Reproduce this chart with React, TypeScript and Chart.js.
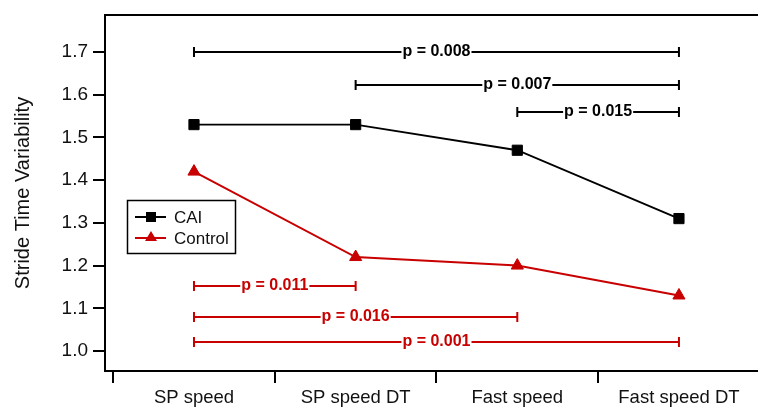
import React, { useEffect, useRef } from 'react';
import { Chart, registerables } from 'chart.js';

Chart.register(...registerables);

const categories = ['SP speed', 'SP speed DT', 'Fast speed', 'Fast speed DT'];
const caiValues = [1.53, 1.53, 1.47, 1.31];
const controlValues = [1.42, 1.22, 1.2, 1.13];
const yTickValues = [1.0, 1.1, 1.2, 1.3, 1.4, 1.5, 1.6, 1.7];

const blackBracketFrom = [0, 1, 2];
const blackBracketTo = [3, 3, 3];
const blackBracketLevel = [1.7, 1.623, 1.56];
const blackBracketLabels = ['p = 0.008', 'p = 0.007', 'p = 0.015'];

const redBracketFrom = [0, 0, 0];
const redBracketTo = [1, 2, 3];
const redBracketLevel = [1.152, 1.08, 1.021];
const redBracketLabels = ['p = 0.011', 'p = 0.016', 'p = 0.001'];

const BLACK = '#000000';
const RED = '#c80000';
const FONT = '"Liberation Sans", Arial, sans-serif';

function drawBrackets(chart: any, from: number[], to: number[], level: number[], labels: string[], color: string) {
  const ctx = chart.ctx;
  const xs = chart.scales.x;
  const ys = chart.scales.y;
  ctx.save();
  ctx.strokeStyle = color;
  ctx.fillStyle = color;
  ctx.lineWidth = 2;
  ctx.font = `bold 16px ${FONT}`;
  ctx.textAlign = 'center';
  ctx.textBaseline = 'middle';
  for (let i = 0; i < labels.length; i++) {
    const x1 = xs.getPixelForValue(from[i]);
    const x2 = xs.getPixelForValue(to[i]);
    const y = Math.round(ys.getPixelForValue(level[i]));
    const cx = (x1 + x2) / 2;
    const w = ctx.measureText(labels[i]).width;
    ctx.beginPath();
    ctx.moveTo(x1, y);
    ctx.lineTo(cx - w / 2 - 1, y);
    ctx.moveTo(cx + w / 2 + 1, y);
    ctx.lineTo(x2, y);
    ctx.moveTo(x1, y - 5);
    ctx.lineTo(x1, y + 5);
    ctx.moveTo(x2, y - 5);
    ctx.lineTo(x2, y + 5);
    ctx.stroke();
    ctx.fillText(labels[i], cx, y);
  }
  ctx.restore();
}

const overlayPlugin = {
  id: 'overlay',
  afterDraw(chart: any) {
    const ctx = chart.ctx;
    const area = chart.chartArea;
    ctx.save();
    ctx.strokeStyle = BLACK;
    ctx.lineWidth = 2;
    ctx.beginPath();
    ctx.moveTo(area.left - 1, area.top);
    ctx.lineTo(chart.width, area.top);
    ctx.stroke();
    ctx.restore();

    drawBrackets(chart, blackBracketFrom, blackBracketTo, blackBracketLevel, blackBracketLabels, BLACK);
    drawBrackets(chart, redBracketFrom, redBracketTo, redBracketLevel, redBracketLabels, RED);

    ctx.save();
    ctx.strokeStyle = BLACK;
    ctx.lineWidth = 1.5;
    ctx.strokeRect(127.5, 200.5, 108, 53);
    const entries = [
      { label: 'CAI', color: BLACK, shape: 'rect', y: 217 },
      { label: 'Control', color: RED, shape: 'tri', y: 238 },
    ];
    ctx.font = `17px ${FONT}`;
    ctx.textAlign = 'left';
    ctx.textBaseline = 'middle';
    for (const e of entries) {
      ctx.strokeStyle = e.color;
      ctx.fillStyle = e.color;
      ctx.lineWidth = 2;
      ctx.beginPath();
      ctx.moveTo(135, e.y);
      ctx.lineTo(166, e.y);
      ctx.stroke();
      if (e.shape === 'rect') {
        ctx.fillRect(146, e.y - 5, 10, 10);
      } else {
        ctx.beginPath();
        ctx.moveTo(151, e.y - 7);
        ctx.lineTo(157, e.y + 3);
        ctx.lineTo(145, e.y + 3);
        ctx.closePath();
        ctx.fill();
      }
      ctx.fillStyle = '#111';
      ctx.fillText(e.label, 174, e.y + 1);
    }
    ctx.restore();
  },
};

export default function App() {
  const canvasRef = useRef<HTMLCanvasElement | null>(null);

  useEffect(() => {
    if (!canvasRef.current) return;
    const chart = new Chart(canvasRef.current, {
      type: 'line',
      data: {
        datasets: [
          {
            label: 'CAI',
            data: caiValues.map((v, i) => ({ x: i, y: v })),
            borderColor: BLACK,
            backgroundColor: BLACK,
            borderWidth: 1.8,
            pointStyle: 'rect',
            pointRadius: 7.2,
            pointBorderWidth: 1,
            pointBackgroundColor: BLACK,
            pointBorderColor: BLACK,
            tension: 0,
          },
          {
            label: 'Control',
            data: controlValues.map((v, i) => ({ x: i, y: v })),
            borderColor: RED,
            backgroundColor: RED,
            borderWidth: 2,
            pointStyle: 'triangle',
            pointRadius: 7,
            pointBorderWidth: 1,
            pointBackgroundColor: RED,
            pointBorderColor: RED,
            tension: 0,
          },
        ],
      },
      options: {
        animation: false,
        responsive: true,
        maintainAspectRatio: false,
        layout: { autoPadding: false, padding: { top: 15, left: 0, right: 0, bottom: 0 } },
        plugins: {
          legend: { display: false },
          tooltip: { enabled: false },
        },
        scales: {
          x: {
            type: 'linear',
            min: -0.5505,
            max: 3.489,
            afterBuildTicks: (axis: any) => {
              axis.ticks = categories.map((_, i) => ({ value: i }));
            },
            afterFit: (s: any) => {
              s.height = 38;
              s.paddingLeft = 0;
              s.paddingRight = 0;
            },
            ticks: {
              callback: (v: any) => categories[Math.round(Number(v))] ?? '',
              font: { family: FONT, size: 18.5 },
              color: '#111',
              padding: 4,
              maxRotation: 0,
              autoSkip: false,
            },
            grid: {
              offset: true,
              drawOnChartArea: false,
              drawTicks: true,
              tickLength: 12,
              color: BLACK,
              lineWidth: 2,
            },
            border: { display: true, color: BLACK, width: 2 },
          },
          y: {
            type: 'linear',
            min: 0.9532,
            max: 1.7866,
            afterBuildTicks: (axis: any) => {
              axis.ticks = yTickValues.map((v) => ({ value: v }));
            },
            afterFit: (s: any) => {
              s.width = 105;
              s.paddingTop = 0;
              s.paddingBottom = 0;
            },
            ticks: {
              callback: (v: any) => Number(v).toFixed(1),
              font: { family: FONT, size: 19 },
              color: '#111',
              padding: 5,
            },
            grid: {
              drawOnChartArea: false,
              drawTicks: true,
              tickLength: 12,
              color: BLACK,
              lineWidth: 2,
            },
            border: { display: true, color: BLACK, width: 2 },
            title: {
              display: true,
              text: 'Stride Time Variability',
              font: { family: FONT, size: 20 },
              color: '#111',
              padding: { top: 11, bottom: 0 },
            },
          },
        },
      },
      plugins: [overlayPlugin],
    });
    return () => chart.destroy();
  }, []);

  return (
    <div style={{ position: 'absolute', left: 0, top: 0, width: 758, height: 409 }}>
      <canvas ref={canvasRef} />
    </div>
  );
}
